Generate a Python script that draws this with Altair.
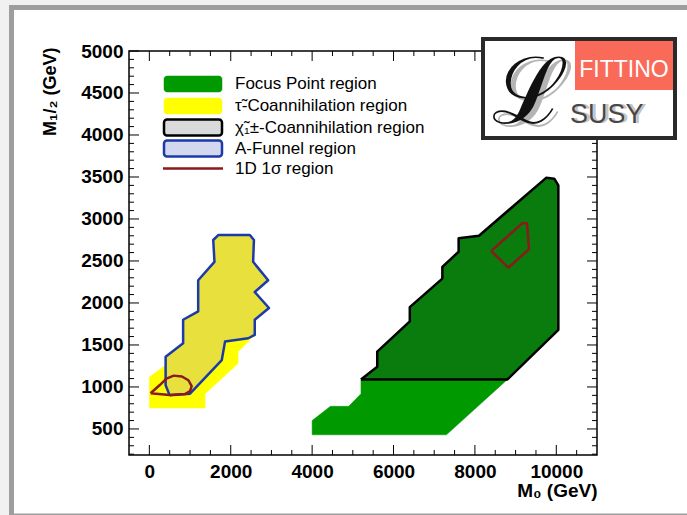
import altair as alt
import pandas as pd

# ---------------- data ----------------
X_MAJOR = [0, 2000, 4000, 6000, 8000, 10000]
X_MINOR = [500, 1000, 1500, 2500, 3000, 3500, 4500, 5000, 5500, 6500, 7000,
           7500, 8500, 9000, 9500, 10500]
Y_MAJOR = [500, 1000, 1500, 2000, 2500, 3000, 3500, 4000, 4500, 5000]
Y_MINOR = [200, 300, 400, 600, 700, 800, 900, 1100, 1200, 1300, 1400, 1600,
           1700, 1800, 1900, 2100, 2200, 2300, 2400, 2600, 2700, 2800, 2900,
           3100, 3200, 3300, 3400, 3600, 3700, 3800, 3900, 4100, 4200, 4300,
           4400, 4600, 4700, 4800, 4900]

# Focus point region (green, whole outline)
GREEN_X = [4000, 4000, 4450, 4900, 5200, 5200, 5600, 5600, 6400, 6400, 7200,
           7200, 7600, 7600, 8100, 9750, 9950, 10050, 10050, 8800, 7300, 4000]
GREEN_Y = [430, 600, 770, 770, 920, 1090, 1240, 1420, 1780, 1950, 2290,
           2430, 2610, 2770, 2800, 3490, 3480, 3400, 1680, 1090, 430, 430]

# chargino co-annihilation region
CHI_X = [5200, 5600, 5600, 6400, 6400, 7200, 7200, 7600, 7600, 8100, 9750,
         9950, 10050, 10050, 8800, 5200]
CHI_Y = [1090, 1240, 1420, 1780, 1950, 2290, 2430, 2610, 2770, 2800, 3490,
         3480, 3400, 1680, 1090, 1090]

# stau co-annihilation region
YELLOW_X = [0, 0, 400, 400, 830, 830, 1200, 1200, 1600, 1570, 1700, 2470,
            2570, 2550, 2920, 2590, 2940, 2590, 2590, 2180, 2180, 1370, 1370, 0]
YELLOW_Y = [750, 1120, 1260, 1360, 1520, 1800, 1900, 2270, 2490, 2750, 2810,
            2810, 2750, 2490, 2270, 2130, 1940, 1800, 1620, 1420, 1280, 920,
            750, 750]

# A-funnel region
BLUE_X = [500, 400, 400, 830, 830, 1200, 1200, 1600, 1570, 1700, 2470, 2570,
          2550, 2920, 2590, 2940, 2590, 2590, 2430, 1860, 1780, 1000, 500]
BLUE_Y = [900, 1020, 1360, 1520, 1800, 1900, 2270, 2490, 2750, 2810, 2810,
          2750, 2490, 2270, 2130, 1940, 1800, 1620, 1580, 1540, 1320, 920, 900]

# 1D 1 sigma regions
RED1_X = [30, 250, 420, 600, 800, 960, 1040, 1000, 880, 500, 30]
RED1_Y = [925, 1020, 1100, 1135, 1125, 1080, 1010, 950, 915, 905, 925]
RED2_X = [8400, 9170, 9280, 9330, 8820, 8400]
RED2_Y = [2620, 2950, 2950, 2640, 2420, 2620]

LEGEND_LABELS = ["Focus Point region", "τ̃-Coannihilation region",
                 "χ̃₁±-Coannihilation region", "A-Funnel region",
                 "1D 1σ region"]

# ---------------- styling ----------------
W, H = 468, 404
FONT = "Liberation Sans"
GREEN = "#009a00"
CHI_FILL = "#0a7c0e"
YELLOW = "#ffff00"
FUNNEL_FILL = "#e8e03c"
BLUE = "#1c3aa9"
RED = "#8b1a1a"

XS = alt.Scale(domain=[-500, 11000], nice=False, zero=False)
YS = alt.Scale(domain=[190, 5000], nice=False, zero=False)
XAX = alt.Axis(values=X_MAJOR, format="d", ticks=False, domain=False,
               grid=False, labelFont=FONT, labelFontWeight="bold",
               labelFontSize=19, labelColor="black", labelPadding=7,
               labelFlush=False, labelOverlap=False, zindex=2,
               title="M₀ (GeV)", titleFont=FONT, titleFontWeight="bold",
               titleFontSize=19, titleColor="black", titleAnchor="end",
               titleAlign="right", titleX=W, titleY=41,
               titleBaseline="alphabetic")
YAX = alt.Axis(values=Y_MAJOR, format="d", ticks=False, domain=False,
               grid=False, labelFont=FONT, labelFontWeight="bold",
               labelFontSize=19, labelColor="black", labelPadding=6,
               labelFlush=False, labelOverlap=False, zindex=2,
               title="M₁/₂ (GeV)", titleFont=FONT, titleFontWeight="bold",
               titleFontSize=18, titleColor="black", titleAngle=270,
               titleAnchor="end", titleAlign="right", titleX=-74,
               titleY=-4, titleBaseline="alphabetic")


def xenc(f="x"):
    return alt.X(f"{f}:Q", scale=XS, axis=XAX)


def yenc(f="y"):
    return alt.Y(f"{f}:Q", scale=YS, axis=YAX)


def poly(xs, ys, **mark):
    df = pd.DataFrame({"x": xs, "y": ys, "i": list(range(len(xs)))})
    return alt.Chart(df).mark_line(strokeJoin="round", **mark).encode(
        x=xenc(), y=yenc(), order="i:Q")


ONE = pd.DataFrame({"a": [0]})

# outer slide frame
outer = alt.Chart(ONE).mark_rect(fill="white", stroke="#9e9e9e",
                                 strokeWidth=5).encode(
    x=alt.value(-117.5), x2=alt.value(600), y=alt.value(-43.5),
    y2=alt.value(465))

yellow = poly(YELLOW_X, YELLOW_Y, fill=YELLOW, stroke=YELLOW, strokeWidth=0.5)
blue = poly(BLUE_X, BLUE_Y, fill=FUNNEL_FILL, stroke=BLUE, strokeWidth=2.5)
green = poly(GREEN_X, GREEN_Y, fill=GREEN, stroke=GREEN, strokeWidth=0.5)
chi = poly(CHI_X, CHI_Y, fill=CHI_FILL, stroke="black", strokeWidth=2.5)
red1 = poly(RED1_X, RED1_Y, stroke=RED, strokeWidth=2.5)
red2 = poly(RED2_X, RED2_Y, stroke=RED, strokeWidth=2.5)


def xticks(vals, length):
    df = pd.DataFrame({"x": vals})
    b = alt.Chart(df).mark_rule(color="black", strokeWidth=1).encode(
        x=xenc(), y=alt.value(H), y2=alt.value(H - length))
    t = alt.Chart(df).mark_rule(color="black", strokeWidth=1).encode(
        x=xenc(), y=alt.value(0), y2=alt.value(length))
    return [b, t]


def yticks(vals, length):
    df = pd.DataFrame({"y": vals})
    l = alt.Chart(df).mark_rule(color="black", strokeWidth=1).encode(
        y=yenc(), x=alt.value(0), x2=alt.value(length))
    r = alt.Chart(df).mark_rule(color="black", strokeWidth=1).encode(
        y=yenc(), x=alt.value(W), x2=alt.value(W - length))
    return [l, r]


ticks = xticks(X_MAJOR, 10) + xticks(X_MINOR, 5) + yticks(Y_MAJOR, 10) + \
    yticks(Y_MINOR, 5)

frame = alt.Chart(ONE).mark_rect(fill="transparent", stroke="black",
                                 strokeWidth=1.5).encode(
    x=alt.value(0), x2=alt.value(W), y=alt.value(0), y2=alt.value(H))

# ---------------- legend ----------------
ROW_Y = [33, 55, 76.5, 97.5, 117.5]
SW_FILL = [GREEN, YELLOW, "#dadada", "#d4d8ee"]
SW_STROKE = [GREEN, YELLOW, "black", BLUE]
SW_WIDTH = [0.5, 0.5, 2.5, 2.5]
legend = []
for k in range(4):
    legend.append(alt.Chart(ONE).mark_rect(
        fill=SW_FILL[k], stroke=SW_STROKE[k], strokeWidth=SW_WIDTH[k],
        cornerRadius=3).encode(
        x=alt.value(35), x2=alt.value(93), y=alt.value(ROW_Y[k] - 8),
        y2=alt.value(ROW_Y[k] + 8)))
legend.append(alt.Chart(ONE).mark_rule(color=RED, strokeWidth=2.5).encode(
    x=alt.value(34), x2=alt.value(94), y=alt.value(ROW_Y[4])))
for k, lab in enumerate(LEGEND_LABELS):
    legend.append(alt.Chart(pd.DataFrame({"t": [lab]})).mark_text(
        align="left", baseline="middle", font=FONT, fontSize=17,
        color="black").encode(
        x=alt.value(106), y=alt.value(ROW_Y[k]), text="t:N"))

# ---------------- logo ----------------
logo = [
    alt.Chart(ONE).mark_rect(fill="white", stroke="#2a2a2a",
                             strokeWidth=4).encode(
        x=alt.value(354), x2=alt.value(546), y=alt.value(-12),
        y2=alt.value(87)),
    alt.Chart(ONE).mark_rect(fill="#fa6a58").encode(
        x=alt.value(446), x2=alt.value(544), y=alt.value(-10),
        y2=alt.value(39)),
    alt.Chart(pd.DataFrame({"t": ["FITTINO"]})).mark_text(
        align="center", baseline="alphabetic", font=FONT,
        fontSize=23, color="white").encode(
        x=alt.value(495), y=alt.value(26), text="t:N"),
    alt.Chart(pd.DataFrame({"t": ["SUSY"]})).mark_text(
        align="left", baseline="alphabetic", font=FONT, fontSize=27,
        color="#c4c4c4").encode(
        x=alt.value(444), y=alt.value(72), text="t:N"),
    alt.Chart(pd.DataFrame({"t": ["SUSY"]})).mark_text(
        align="left", baseline="alphabetic", font=FONT, fontSize=27,
        color="#474747").encode(
        x=alt.value(441), y=alt.value(72), text="t:N"),
    alt.Chart(pd.DataFrame({"t": ["ℒ"]})).mark_text(
        align="left", baseline="alphabetic", font="DejaVu Serif",
        fontSize=92, color="#b4b4b4").encode(
        x=alt.value(368), y=alt.value(75), text="t:N"),
    alt.Chart(pd.DataFrame({"t": ["ℒ"]})).mark_text(
        align="left", baseline="alphabetic", font="DejaVu Serif",
        fontSize=92, color="#111111").encode(
        x=alt.value(363), y=alt.value(72), text="t:N"),
]

layers = [outer, yellow, blue, green, chi, red1, red2] + ticks + [frame] + \
    legend + logo

chart = alt.layer(*layers).properties(
    width=W, height=H,
    padding={"left": 129, "top": 51, "right": 90, "bottom": 60},
    autosize=alt.AutoSizeParams(type="none"),
    background="#f2f1f2",
).configure_view(stroke=None)

chart.save("out.html", embed_options={"renderer": "svg", "actions": False})
